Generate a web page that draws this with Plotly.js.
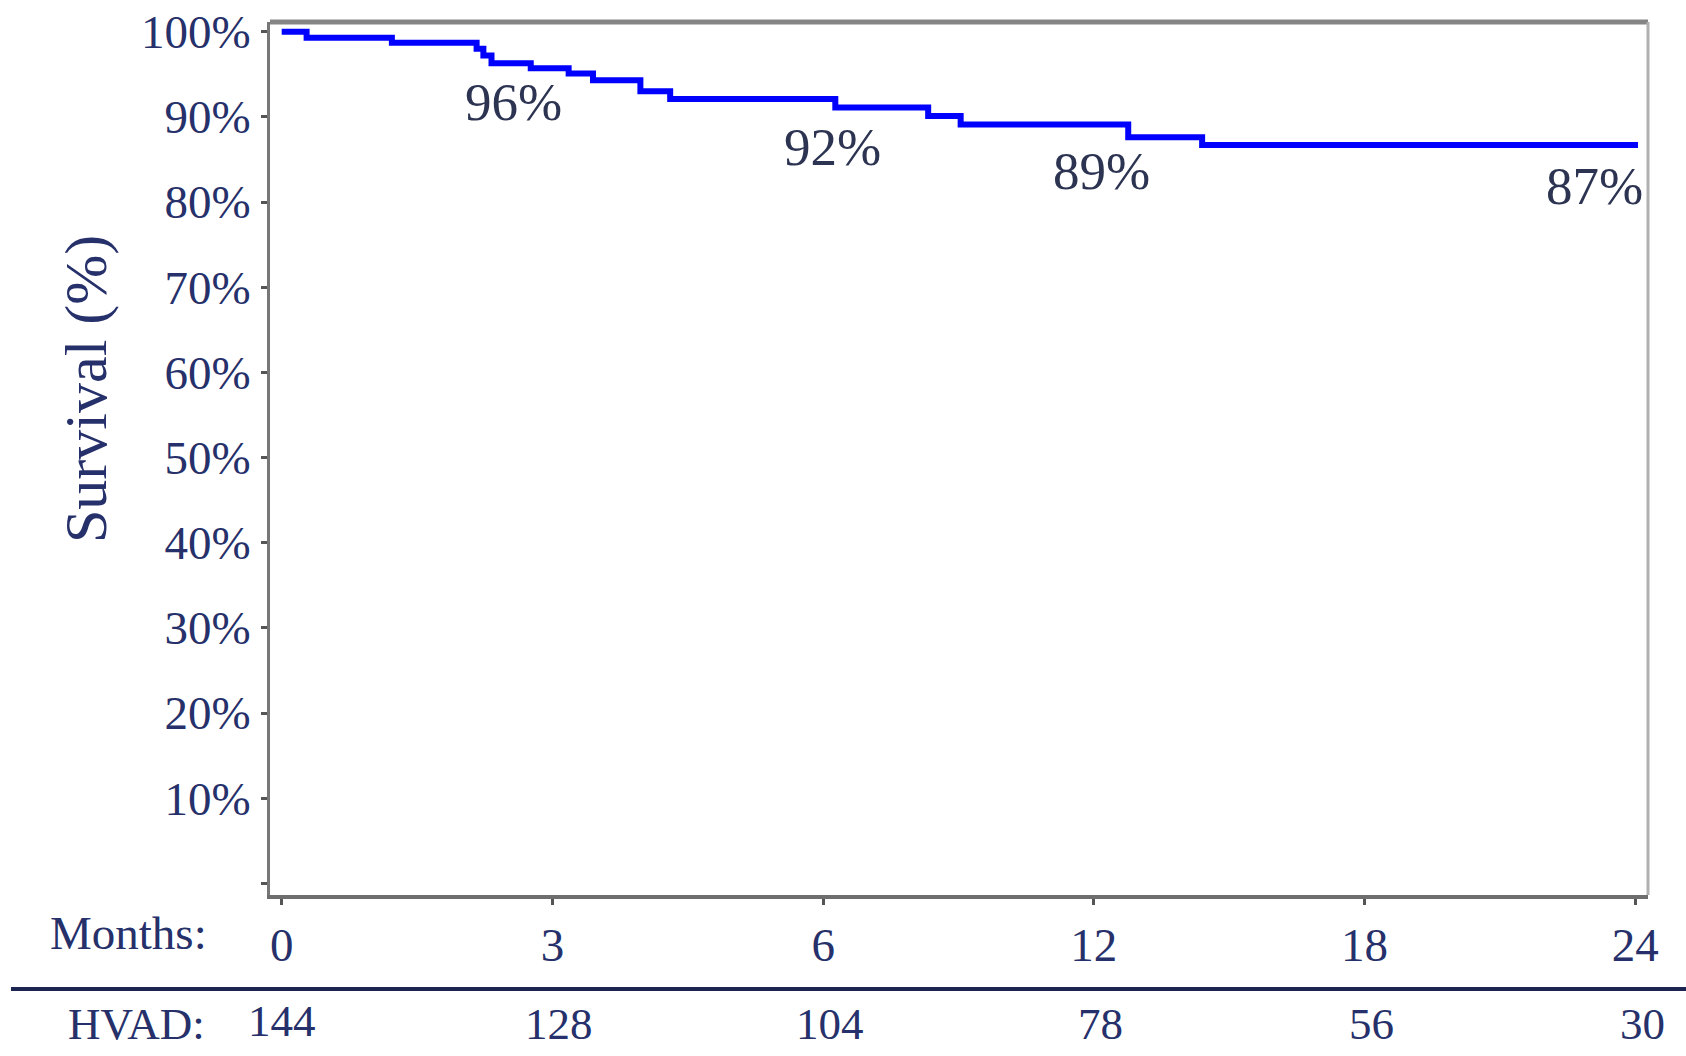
<!DOCTYPE html>
<html>
<head>
<meta charset="utf-8">
<script src="https://cdn.plot.ly/plotly-3.0.1.min.js"></script>
<style>html,body{margin:0;padding:0;background:#fff;}#chart{width:1686px;height:1056px;}</style>
</head>
<body>
<div id="chart"></div>
<script>
// Month tick labels (equally spaced on the plot)
const monthLabels = ['0', '3', '6', '12', '18', '24'];
// Numbers at risk (HVAD) under each month tick
const atRisk = ['144', '128', '104', '78', '56', '30'];
// Kaplan-Meier step curve, x in tick-position units, y in %
const stepPos = [0, 0.092, 0.407, 0.72, 0.745, 0.775, 0.92, 1.06, 1.15, 1.325, 1.435, 2.045, 2.388, 2.508, 3.127, 3.40, 5.01];
const survival = [100, 99.3, 98.7, 98.0, 97.2, 96.3, 95.7, 95.1, 94.3, 93.0, 92.1, 91.1, 90.1, 89.1, 87.6, 86.7, 86.7];
// Survival labels on the curve
const labelText = ['96%', '92%', '89%', '87%'];
const labelPos = [0.858, 2.033, 3.03, 4.848];
const labelY = [91.75, 86.45, 83.6, 81.9];
// Y tick values and text
const yTickVals = [0, 10, 20, 30, 40, 50, 60, 70, 80, 90, 100];
const yTickText = ['', '10%', '20%', '30%', '40%', '50%', '60%', '70%', '80%', '90%', '100%'];

const FONT = '"Liberation Serif", "Times New Roman", serif';
const TXT = '#26306a';

const traces = [{
  type: 'scatter', mode: 'lines',
  x: stepPos, y: survival,
  line: {shape: 'hv', color: '#0000ff', width: 6},
  hoverinfo: 'skip', showlegend: false
}];

const annotations = [];
labelText.forEach((t, i) => {
  annotations.push({x: labelPos[i], y: labelY[i], xref: 'x', yref: 'y', text: t, showarrow: false,
    xanchor: 'center', yanchor: 'middle', font: {family: FONT, size: 53, color: '#2c3452'}});
});
// y-axis title
annotations.push({x: (86 - 270) / 1378, y: (895 - 389) / 873, xref: 'paper', yref: 'paper', text: 'Survival (%)',
  showarrow: false, textangle: -90, xanchor: 'center', yanchor: 'middle',
  font: {family: FONT, size: 60, color: TXT}});
annotations.push({x: (128 - 270) / 1378, y: -0.0435, xref: 'paper', yref: 'paper', text: 'Months:', showarrow: false,
  xanchor: 'center', yanchor: 'middle', font: {family: FONT, size: 47, color: TXT}});
annotations.push({x: (136 - 270) / 1378, y: -0.1478, xref: 'paper', yref: 'paper', text: 'HVAD:', showarrow: false,
  xanchor: 'center', yanchor: 'middle', font: {family: FONT, size: 45, color: TXT}});
atRisk.forEach((t, i) => {
  annotations.push({x: i + (i === 0 ? 0 : 0.025), y: -0.1478 + (i === 0 ? 0.004 : 0), xref: 'x', yref: 'paper', text: t, showarrow: false,
    xanchor: 'center', yanchor: 'middle', font: {family: FONT, size: 45, color: TXT}});
});

const layout = {
  width: 1686, height: 1056,
  margin: {l: 270, r: 38, t: 22, b: 161},
  paper_bgcolor: '#ffffff', plot_bgcolor: '#ffffff',
  showlegend: false,
  xaxis: {
    range: [-0.0432, 5.047],
    tickmode: 'array', tickvals: [0, 1, 2, 3, 4, 5], ticktext: monthLabels,
    ticks: 'outside', ticklen: 6, tickwidth: 3, tickcolor: '#555555',
    showline: true, linecolor: '#6e6e6e', linewidth: 4,
    showgrid: false, zeroline: false,
    ticklabelstandoff: 0,
    tickfont: {family: FONT, size: 47, color: TXT},
    fixedrange: true
  },
  yaxis: {
    range: [-1.37, 101.14],
    tickmode: 'array', tickvals: yTickVals, ticktext: yTickText,
    ticks: 'outside', ticklen: 6, tickwidth: 3, tickcolor: '#555555',
    showline: true, linecolor: '#777777', linewidth: 3,
    showgrid: false, zeroline: false,
    ticklabelstandoff: 1,
    tickfont: {family: FONT, size: 47, color: TXT},
    fixedrange: true
  },
  shapes: [
    {type: 'line', xref: 'paper', yref: 'paper', x0: 0, x1: 1, y0: 1, y1: 1, line: {color: '#858585', width: 5}},
    {type: 'line', xref: 'paper', yref: 'paper', x0: 1, x1: 1, y0: 0, y1: 1, line: {color: '#b0b0b0', width: 3}},
    {type: 'line', xref: 'paper', yref: 'paper', x0: (11 - 270) / 1378, x1: (1686 - 270) / 1378, y0: -0.1077, y1: -0.1077, line: {color: '#1c2452', width: 4}}
  ],
  annotations: annotations
};

Plotly.newPlot('chart', traces, layout, {displayModeBar: false, staticPlot: true});
</script>
</body>
</html>
